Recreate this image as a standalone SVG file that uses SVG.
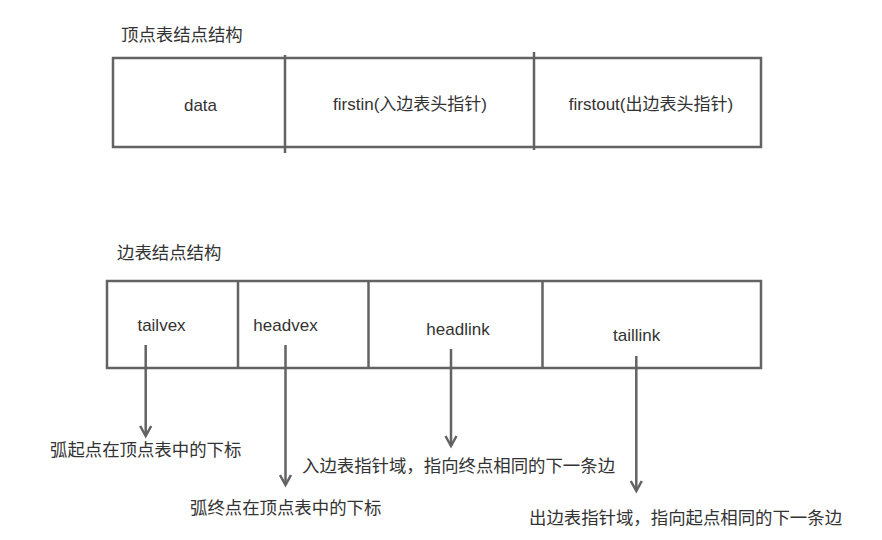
<svg xmlns="http://www.w3.org/2000/svg" width="882" height="540" viewBox="0 0 882 540">
<style>
.box{fill:none;stroke:#636363;stroke-width:2.5}
.div{stroke:#636363;stroke-width:2.5}
.arr{stroke:#636363;stroke-width:2.5;fill:none}
.t{font-family:"Liberation Sans","Noto Sans CJK SC",sans-serif;font-size:17px;fill:#333}
.c{font-family:"Noto Sans CJK SC",sans-serif;font-size:17.4px;fill:#333}
.m{text-anchor:middle}
</style>
<defs>
<marker id="ah" markerWidth="14" markerHeight="14" refX="11" refY="6" orient="auto" markerUnits="userSpaceOnUse" viewBox="0 0 14 12">
<path d="M1,0.5 L11,6 L1,11.5" fill="none" stroke="#636363" stroke-width="2.5"/>
</marker>
</defs>
<rect width="882" height="540" fill="#fff"/>
<g id="vertex-title"><text class="c" x="121" y="40.5">顶点表结点结构</text></g>
<g id="vertex-node">
<rect class="box" x="113" y="58" width="648" height="89"/>
<line class="div" x1="285" y1="55" x2="285" y2="153"/>
<line class="div" x1="534" y1="52" x2="534" y2="150"/>
<text class="t m" x="200.5" y="111">data</text>
<text class="t m" x="410" y="110">firstin(入边表头指针)</text>
<text class="t m" x="651" y="110">firstout(出边表头指针)</text>
</g>
<g id="edge-title"><text class="c" x="117" y="259">边表结点结构</text></g>
<g id="edge-node">
<rect class="box" x="107" y="281" width="654" height="87"/>
<line class="div" x1="238" y1="281" x2="238" y2="368"/>
<line class="div" x1="368.5" y1="281" x2="368.5" y2="368"/>
<line class="div" x1="542.5" y1="281" x2="542.5" y2="368"/>
<text class="t m" x="161.5" y="331">tailvex</text>
<text class="t m" x="285.5" y="331">headvex</text>
<text class="t m" x="458" y="335">headlink</text>
<text class="t m" x="636.7" y="341">taillink</text>
</g>
<g id="connectors">
<line class="arr" x1="145.7" y1="345" x2="145.7" y2="436" marker-end="url(#ah)"/>
<line class="arr" x1="285.5" y1="345" x2="285.5" y2="485" marker-end="url(#ah)"/>
<line class="arr" x1="451" y1="349" x2="451" y2="446" marker-end="url(#ah)"/>
<line class="arr" x1="636.3" y1="356" x2="636.3" y2="491" marker-end="url(#ah)"/>
</g>
<g id="label-tailvex"><text class="c" x="50" y="456">弧起点在顶点表中的下标</text></g>
<g id="label-headvex"><text class="c" x="190" y="514">弧终点在顶点表中的下标</text></g>
<g id="label-headlink"><text class="c" x="302" y="472">入边表指针域，指向终点相同的下一条边</text></g>
<g id="label-taillink"><text class="c" x="529" y="524">出边表指针域，指向起点相同的下一条边</text></g>
</svg>
